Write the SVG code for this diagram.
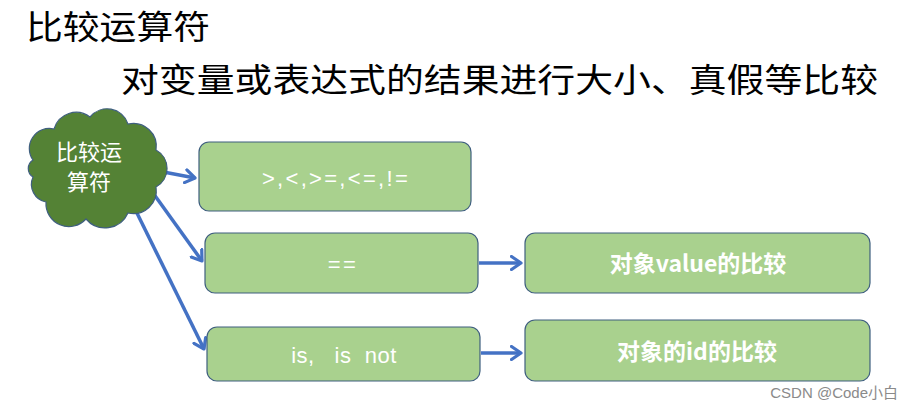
<svg xmlns="http://www.w3.org/2000/svg" width="910" height="409" viewBox="0 0 910 409">
<defs>
<marker id="arr" markerWidth="14" markerHeight="16" refX="11" refY="8" orient="auto" markerUnits="userSpaceOnUse">
<path d="M1.5,1.5 L11,8 L1.5,14.5" fill="none" stroke="#4472C4" stroke-width="3.2" stroke-linecap="round" stroke-linejoin="round"/>
</marker>
<style>
.box{fill:#A9D18E;stroke:#3F5F7F;stroke-width:1.2}
.bt{fill:#fff;font-family:"Liberation Sans","Noto Sans CJK SC",sans-serif;font-size:22px;text-anchor:middle;letter-spacing:2.3px}
.bc{fill:#fff;font-family:"Noto Sans CJK SC","Liberation Sans",sans-serif;font-size:23px;font-weight:bold;text-anchor:middle}
.ttl{fill:#000;font-family:"Noto Sans CJK SC",sans-serif;font-size:33px}
.c{fill:none;stroke:#4472C4;stroke-width:3.5;marker-end:url(#arr)}
</style>
</defs>
<rect width="910" height="409" fill="#fff"/>
<text class="ttl" x="26" y="39" textLength="184" lengthAdjust="spacingAndGlyphs">比较运算符</text>
<text class="ttl" x="121" y="92" textLength="757" lengthAdjust="spacingAndGlyphs">对变量或表达式的结果进行大小、真假等比较</text>
<g id="connectors">
<line class="c" x1="153" y1="170" x2="195" y2="178"/>
<line class="c" x1="148" y1="186" x2="202" y2="261"/>
<line class="c" x1="133" y1="205" x2="204" y2="349"/>
<line class="c" x1="479" y1="263" x2="521" y2="263"/>
<line class="c" x1="481" y1="353" x2="521" y2="353"/>
</g>
<g id="cloud">
<path d="M33,160 A20,20 0 0 1 54,129 A23,23 0 0 1 90,117 A22,22 0 0 1 128,124 A23,23 0 0 1 156,150 A21,21 0 0 1 156,187 A23,23 0 0 1 128,213 A25,25 0 0 1 86,219 A23,23 0 0 1 46,202 A18,18 0 0 1 33,177 A10,10 0 0 1 33,160 Z" fill="#548235" stroke="#3F5F7F" stroke-width="1.2"/>
<text x="89" y="160" fill="#fff" font-family="Noto Sans CJK SC,sans-serif" font-size="22" text-anchor="middle">比较运</text>
<text x="89" y="190" fill="#fff" font-family="Noto Sans CJK SC,sans-serif" font-size="22" text-anchor="middle">算符</text>
</g>
<g id="n1">
<rect class="box" x="199" y="142" width="272" height="69" rx="10"/>
<text class="bt" x="336" y="186">&gt;,&lt;,&gt;=,&lt;=,!=</text>
</g>
<g id="n2">
<rect class="box" x="205" y="233" width="273" height="60" rx="10"/>
<text class="bt" x="343" y="272">==</text>
</g>
<g id="n3">
<rect class="box" x="207" y="327" width="273" height="54" rx="10"/>
<text class="bt" x="344" y="363" xml:space="preserve" style="letter-spacing:0.5px">is,   is  not</text>
</g>
<g id="n4">
<rect class="box" x="525" y="233" width="345" height="60" rx="10"/>
<text class="bc" x="698" y="272">对象value的比较</text>
</g>
<g id="n5">
<rect class="box" x="525" y="320" width="345" height="61" rx="10"/>
<text class="bc" x="697" y="360">对象的id的比较</text>
</g>
<text x="898" y="398" fill="#8A8A8A" font-family="Liberation Sans,Noto Sans CJK SC,sans-serif" font-size="15" text-anchor="end">CSDN @Code小白</text>
</svg>
